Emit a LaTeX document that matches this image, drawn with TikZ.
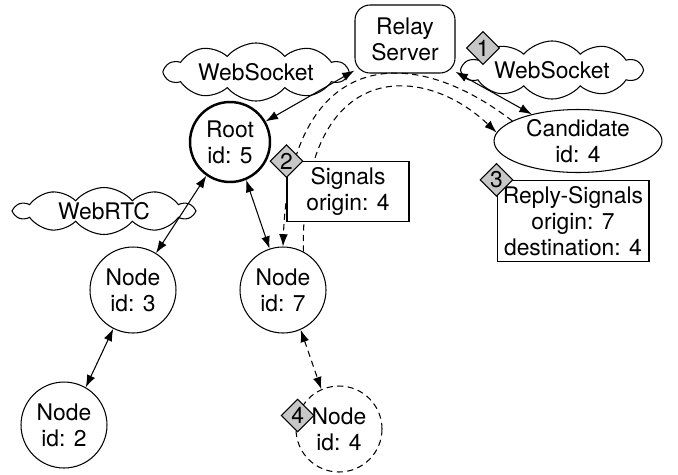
\documentclass[tikz,border=0pt]{standalone}
\usepackage{fontspec}
\setmainfont{TeX Gyre Heros}
\usetikzlibrary{arrows.meta,shapes.geometric,shapes.symbols}

\begin{document}
\begin{tikzpicture}[x=0.02cm, y=-0.02cm,
	font=\fontsize{13}{14.8}\selectfont,
	peer/.style={circle, draw, line width=0.6pt, minimum size=1.72cm, inner sep=0pt, align=center},
	wire/.style={line width=0.6pt, {Latex[length=7pt,width=5pt]}-{Latex[length=7pt,width=5pt]}},
	msg/.style={line width=0.6pt, dash pattern=on 3.5pt off 2.5pt, -{Latex[length=7pt,width=5pt]}},
	channel/.style={cloud, draw, fill=white, cloud puffs=10, cloud puff arc=100, aspect=4.5, line width=0.6pt, inner sep=0pt, minimum height=0.8cm},
	infobox/.style={rectangle, draw, fill=white, align=center, line width=0.6pt},
	badge/.style={diamond, draw, fill=black!22, inner sep=0pt, minimum size=0.66cm, line width=0.6pt}]
    \useasboundingbox (0,0) rectangle (678,474);
    \node[channel, minimum width=3.64cm] (wsl) at (256,72) {WebSocket};
    \node[channel, minimum width=3.58cm] (wsr) at (552,70) {WebSocket};
    \node[channel, minimum width=3.56cm, minimum height=0.94cm] (rtc) at (104,211) {WebRTC};
    \node[draw, rounded corners=0.3cm, minimum width=2cm, minimum height=1.36cm, align=center, line width=0.6pt] (relay) at (405,39) {Relay\\Server};
    \node[peer, line width=1.4pt, minimum size=1.6cm] (root) at (230,142) {Root\\id: 5};
    \node[ellipse, draw, minimum width=3.36cm, minimum height=1.26cm, inner sep=0pt, align=center, line width=0.6pt] (cand) at (578,141) {Candidate\\id: 4};
    \node[peer] (n3) at (133,290) {Node\\id: 3};
    \node[peer] (n7) at (283,290) {Node\\id: 7};
    \node[peer] (n2) at (64,425) {Node\\id: 2};
    \node[peer, dash pattern=on 3.5pt off 2.5pt] (n4) at (339,429) {Node\\id: 4};
    \draw[wire] (root.30) -- (relay.212);
    \draw[wire] (relay.-33) -- (cand.150);
    \draw[wire] (root.235) -- (n3.58);
    \draw[wire] (root.-67) -- (n7.108);
    \draw[wire] (n3.243) -- (n2.60);
    \draw[wire, dash pattern=on 3.5pt off 2.5pt] (n7.-66) -- (n4.114);
    \draw[msg] (cand.163) .. controls (400,35) and (290,60) .. (n7.north);
    \draw[msg] (n7.62) .. controls (300,60) and (420,60) .. (cand.174);
    \node[infobox, minimum width=2.44cm, minimum height=1.18cm] (sig) at (348,191.5) {Signals\\origin: 4};
    \node[infobox, minimum width=3.04cm, minimum height=1.6cm] (reply) at (573,221) {Reply-Signals\\origin: 7\\destination: 4};
    \node[badge] (b1) at (483,48) {1};
    \node[badge] (b2) at (sig.north west) {2};
    \node[badge] (b3) at (reply.north west) {3};
    \node[badge] (b4) at (n4.162) {4};
\end{tikzpicture}
\end{document}
